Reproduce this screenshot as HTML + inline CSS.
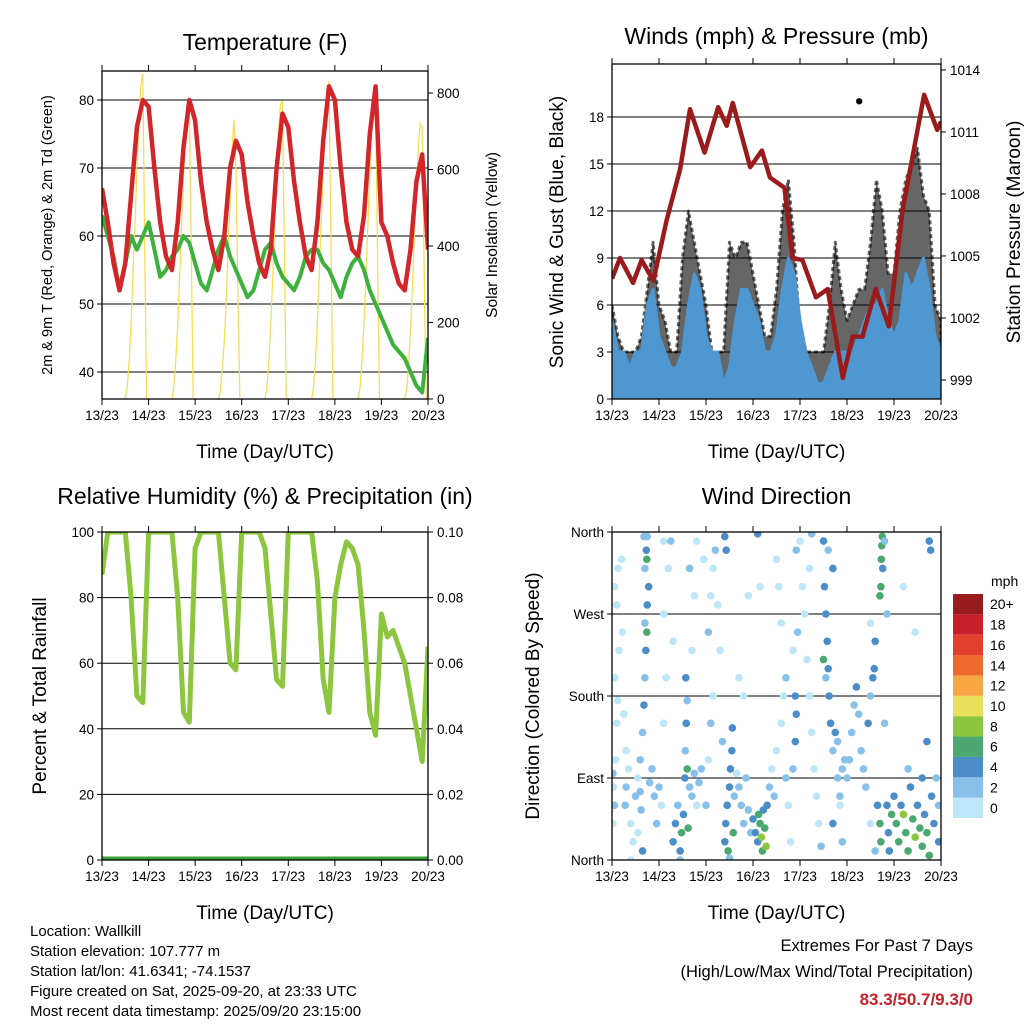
<!DOCTYPE html>
<html><head><meta charset="utf-8"><style>
body{margin:0;background:#fff;}
svg{display:block;font-family:"Liberation Sans",sans-serif;}
</style></head><body>
<svg id="c" width="1024" height="1024" viewBox="0 0 1024 1024"></svg>
<script>
// ---------- data ----------
const tempF=[67,62,56,52,56,66,76,80, 79,70,62,57,55,62,73,80, 77,68,62,58,55,60,70,74, 72,65,60,56,54,58,70,78, 76,68,62,57,55,62,74,82, 80,70,62,58,57,63,75,82, 62,60,56,53,52,58,68,72, 58];
const dewF=[63,60,57,52,56,60,58,60, 62,58,54,55,57,58,60,59, 56,53,52,55,58,60,57,55, 53,51,52,55,58,59,56,54, 53,52,54,57,58,58,56,55, 53,51,54,56,57,55,52,50, 48,46,44,43,42,40,38,37, 45];
const solarDay0=[0,30,100,200,330,460,600,720,820,850,400,0];
const solarDay1=[0,30,100,190,320,450,580,700,770,780,380,0];
const solarDay2=[0,20,80,150,250,400,520,650,730,600,300,0];
const solarDay3=[0,30,100,200,320,450,580,700,770,780,380,0];
const solarDay4=[0,30,100,200,330,470,600,720,810,830,400,0];
const solarDay5=[0,30,100,200,320,450,590,710,780,790,380,0];
const solarDay6=[0,25,90,180,300,420,550,660,720,710,350,0];
const windMean=[5,3,3,2,3,3,6,7, 4,3,2,2,3,6,8,7, 4,3,3,1,2,5,7,7, 6,5,3,3,4,7,9,8, 5,3,2,1,1,2,3,3, 3,3,4,5,6,6,7,5, 4,5,8,7,8,9,7,4, 3];
const windGust=[6,4,3,3,3,4,7,10, 6,5,3,3,9,12,10,8, 6,3,3,3,10,9,10,10, 8,6,4,4,7,12,14,10, 4,3,3,3,3,6,10,7, 5,6,7,7,10,14,12,8, 8,12,14,15,16,13,12,6, 5];
const pressTime=[0,0.17,0.45,0.63,0.88,1.16,1.45,1.66,1.97,2.26,2.44,2.57,2.94,3.19,3.36,3.67,3.84,4.05,4.34,4.59,4.91,5.12,5.33,5.61,5.89,6.18,6.64,6.92,7.0];
const pressMb=[1003.9,1004.9,1003.7,1004.8,1003.8,1006.7,1009.2,1012.1,1010.0,1012.2,1011.3,1012.4,1009.3,1010.1,1008.8,1008.3,1004.9,1004.8,1003.0,1003.4,999.1,1001.1,1001.1,1003.4,1001.6,1007.2,1012.8,1011.1,1011.5];
const rhPct=[87,100,100,100,100,80,50,48, 100,100,100,100,100,80,45,42, 95,100,100,100,100,80,60,58, 100,100,100,100,95,75,55,53, 100,100,100,100,100,85,55,45, 80,90,97,95,90,70,45,38, 75,68,70,65,60,50,40,30, 65];
const precipIn=[0,0,0,0,0,0,0,0,0];
const dirObs=[
[0.02,95,3],[0.03,80,1],[0.05,60,2],[0.02,40,1],[0.08,110,1],[0.1,150,1],[0.12,175,1],[0.06,200,0],[0.15,230,0],[0.1,280,0],[0.05,300,0],[0.13,320,0],[0.2,330,1],[0.22,250,1],[0.25,160,1],[0.3,120,0],[0.35,100,1],[0.3,80,2],[0.28,60,3],[0.4,40,1],[0.45,20,1],[0.5,70,2],[0.55,90,1],[0.6,110,2],[0.65,140,3],[0.68,170,4],[0.7,200,3],[0.72,230,4],[0.7,260,3],[0.75,280,4],[0.78,300,4],[0.7,320,3],[0.73,340,4],[0.75,355,2],[0.68,355,3],[0.74,330,6],[0.74,250,6],[0.6,75,2],[0.62,55,3],[0.55,30,1],[0.65,10,4],[0.4,0,1],[0.8,85,3],[0.85,100,2],[0.9,70,3],[0.95,40,2],
[1.0,80,2],[1.05,60,1],[1.1,150,1],[1.15,200,1],[1.1,270,1],[1.2,320,1],[1.1,350,1],[1.3,20,4],[1.35,40,5],[1.4,60,3],[1.45,10,4],[1.48,30,6],[1.52,50,5],[1.55,90,4],[1.56,120,3],[1.58,150,4],[1.6,175,3],[1.57,200,4],[1.6,100,6],[1.65,80,2],[1.7,70,3],[1.75,95,2],[1.8,60,1],[1.85,85,2],[1.9,100,2],[1.7,230,1],[1.75,290,1],[1.65,320,2],[1.8,350,1],[1.95,330,1],[1.3,240,1],[1.25,350,3],[1.62,35,6],[1.45,0,3],
[2.0,60,2],[2.05,110,1],[2.1,150,2],[2.15,180,1],[2.05,250,2],[2.1,290,1],[2.15,320,1],[2.2,340,2],[2.25,280,1],[2.3,230,1],[2.35,130,2],[2.4,20,4],[2.42,40,5],[2.45,60,4],[2.47,10,6],[2.5,80,4],[2.52,100,5],[2.55,120,4],[2.56,145,5],[2.58,30,6],[2.6,70,3],[2.4,355,5],[2.43,340,4],[2.5,2,3],[2.65,95,1],[2.7,80,2],[2.75,60,2],[2.8,40,3],[2.85,90,3],[2.9,55,2],[2.95,30,3],[2.7,200,1],[2.8,180,1],[2.9,290,1],
[3.0,45,4],[3.05,30,5],[3.1,20,4],[3.12,50,6],[3.15,40,7],[3.18,25,8],[3.2,10,6],[3.22,55,5],[3.25,35,7],[3.28,15,8],[3.3,60,4],[3.35,80,2],[3.4,100,1],[3.45,70,2],[3.5,120,1],[3.6,150,1],[3.65,180,1],[3.7,90,2],[3.75,60,1],[3.8,20,1],[3.85,100,2],[3.9,130,4],[3.92,160,4],[3.9,180,4],[3.95,250,2],[3.92,340,3],[3.5,330,1],[3.55,300,1],[3.6,260,1],[3.7,200,2],[3.85,230,1],[3.15,300,0],[3.1,358,4],
[4.0,350,1],[4.05,300,1],[4.1,270,1],[4.15,220,1],[4.2,180,1],[4.25,140,1],[4.3,100,1],[4.35,70,1],[4.4,40,1],[4.45,15,2],[4.2,320,1],[4.25,358,2],[4.5,350,4],[4.52,300,5],[4.55,270,4],[4.58,240,5],[4.6,210,4],[4.62,180,5],[4.65,150,4],[4.7,120,3],[4.75,140,4],[4.55,200,2],[4.5,220,6],[4.8,90,2],[4.85,70,3],[4.9,100,2],[4.95,110,3],[4.8,130,2],[4.85,60,1],[4.7,40,4],[4.9,20,2],[4.6,340,2],[4.7,320,4],
[5.0,90,2],[5.05,110,3],[5.1,140,2],[5.15,170,3],[5.2,190,4],[5.25,160,3],[5.3,120,2],[5.35,100,3],[5.4,80,2],[5.45,150,4],[5.5,180,3],[5.55,200,4],[5.58,210,4],[5.6,240,4],[5.65,60,4],[5.7,40,6],[5.72,20,7],[5.7,290,6],[5.72,300,7],[5.73,330,6],[5.74,345,7],[5.75,355,6],[5.76,320,4],[5.8,350,3],[5.85,60,5],[5.88,30,4],[5.9,10,5],[5.95,50,6],[5.6,10,3],[5.5,40,1],[5.8,150,2],[5.5,260,1],[5.85,270,2],
[6.0,70,5],[6.05,40,6],[6.1,20,7],[6.15,60,4],[6.2,50,8],[6.25,30,7],[6.3,10,6],[6.35,80,4],[6.4,45,7],[6.45,25,8],[6.5,60,5],[6.55,35,6],[6.6,15,7],[6.65,50,5],[6.7,30,7],[6.75,5,6],[6.8,70,4],[6.85,40,5],[6.9,90,3],[6.95,20,4],[6.7,130,4],[6.6,90,5],[6.3,100,2],[6.45,250,1],[6.75,350,4],[6.78,340,4],[6.2,300,0],[6.95,60,2]];
const dayLabels=["13/23","14/23","15/23","16/23","17/23","18/23","19/23","20/23"];
const tempTicks=[40,50,60,70,80];
const solarTicks=[0,200,400,600,800];
const windTicks=[0,3,6,9,12,15,18];
const pressTicks=[999,1002,1005,1008,1011,1014];
const rhTicks=[0,20,40,60,80,100];
const rainTicks=["0.00","0.02","0.04","0.06","0.08","0.10"];
const dirTicks=[0,90,180,270,360];
const dirNames=["North","East","South","West","North"];
const cbLabels=["0","2","4","6","8","10","12","14","16","18","20+"];
const cbColors=["#bde6f8","#87c0e8","#4b8dc8","#4aa870","#8cc63f","#e8e05a","#f7a643","#ee6a2c","#e0402c","#c8202a","#981b1e"];

// ---------- helpers ----------
const NS="http://www.w3.org/2000/svg";
const svg=document.getElementById('c');
function mk(tag,a,p){const e=document.createElementNS(NS,tag);for(const k in a)e.setAttribute(k,a[k]);(p||svg).appendChild(e);return e;}
function tx(x,y,s,size,anchor,rot,p){const e=mk('text',{x:x,y:y,'font-size':size,'text-anchor':anchor||'middle',fill:'#000'},p);if(rot)e.setAttribute('transform','rotate(-90 '+x+' '+y+')');e.textContent=s;return e;}
function line(x1,y1,x2,y2,w,c,p){return mk('line',{x1:x1,y1:y1,x2:x2,y2:y2,stroke:c||'#000','stroke-width':w||1},p);}
function pts(xs,ys){return xs.map((x,i)=>x.toFixed(1)+','+ys[i].toFixed(1)).join(' ');}

function panel(name,x0,x1,y0,y1,title,ty){
  const g=mk('g',{});
  
  
  const cp=mk('clipPath',{id:name+'-clip'},g);
  mk('rect',{x:x0,y:y0,width:x1-x0,height:y1-y0},cp);
  const t=tx((x0+x1)/2,ty,title,23,'middle',false,g);
  
  
  for(let d=0;d<8;d++){
    const x=x0+d*(x1-x0)/7;
    const tk=line(x,y1,x,y1+6,1,'#000',g);
    
    
    line(x,y0,x,y0-6,1,'#000',g);
    const l=tx(x,y1+21,dayLabels[d],13.5,'middle',false,g);
    
    
  }
  const xt=tx((x0+x1)/2,y1+59,'Time (Day/UTC)',19,'middle',false,g);
  
  
  const plot=mk('g',{'clip-path':'url(#'+name+'-clip)'},g);
  return {g:g,plot:plot,x0:x0,x1:x1,y0:y0,y1:y1};
}
function frame(P){const r=mk('rect',{x:P.x0,y:P.y0,width:P.x1-P.x0,height:P.y1-P.y0,fill:'none',stroke:'#000','stroke-width':1.3},P.g);
  
  }
function grid(P,y){const l=line(P.x0,y,P.x1,y,1,'#000',P.plot);
  
  }
function yTickL(P,y,s){line(P.x0,y,P.x0-5,y,1,'#000',P.g);const t=tx(P.x0-8,y+5,s,13.5,'end',false,P.g);
  
  }
function yTickR(P,y,s){line(P.x1,y,P.x1+5,y,1,'#000',P.g);const t=tx(P.x1+9,y+5,s,13.5,'start',false,P.g);
  
  }

// ---------- Temperature ----------
const P1=panel('temperature-panel',102,428,71,399,'Temperature (F)',50);
const xT=t=>102+t/7*326, yT=v=>100+(80-v)*6.8, yS=s=>399-s*306/800;
tempTicks.forEach(v=>{grid(P1,yT(v));yTickL(P1,yT(v),v);});
solarTicks.forEach(v=>yTickR(P1,yS(v),v));
[solarDay0,solarDay1,solarDay2,solarDay3,solarDay4,solarDay5,solarDay6].forEach((arr,d)=>{
  const xs=arr.map((v,i)=>xT(d+(12+i)/24)), ys=arr.map(v=>yS(v));
  const pl=mk('polyline',{points:pts(xs,ys),fill:'none',stroke:'#f7dc5a','stroke-width':1.3},P1.plot);
  
  
});
{const xs=dewF.map((v,i)=>xT(i/8));
 const pl=mk('polyline',{points:pts(xs,dewF.map(yT)),fill:'none',stroke:'#3cb13c','stroke-width':4,'stroke-linejoin':'round'},P1.plot);
 
 
 const pr=mk('polyline',{points:pts(xs,tempF.map(yT)),fill:'none',stroke:'#d4262a','stroke-width':4.5,'stroke-linejoin':'round'},P1.plot);
 
 }
frame(P1);
{const a=tx(52,235,'2m & 9m T (Red, Orange) & 2m Td (Green)',14.5,'middle',true,P1.g);
 
 
 const b=tx(497,235,'Solar Insolation (Yellow)',15.5,'middle',true,P1.g);
 
 }

// ---------- Winds ----------
const P2=panel('winds-panel',612,941,64,399,'Winds (mph) & Pressure (mb)',44);
const xW=t=>612+t/7*329, yW=v=>399-v*15.67, yP=p=>380-(p-999)*20.67;
windTicks.forEach(v=>{if(v>0)grid(P2,yW(v));yTickL(P2,yW(v),v);});
pressTicks.forEach(v=>yTickR(P2,yP(v),v));
{const xs=windGust.map((v,i)=>xW(i/8));
 const gp=pts(xs,windGust.map(yW))+' '+pts(xs.slice().reverse(),windMean.slice().reverse().map(yW));
 const ga=mk('polygon',{points:gp,fill:'#000','fill-opacity':0.6,stroke:'#000','stroke-width':3,'stroke-linejoin':'round','stroke-opacity':0.6,'stroke-dasharray':'4 3'},P2.plot);
 
 
 const bp=pts(xs,windMean.map(yW))+' '+xW(7)+','+yW(0)+' '+xW(0)+','+yW(0);
 const ba=mk('polygon',{points:bp,fill:'#4f97d0',stroke:'#4f97d0','stroke-width':3,'stroke-linejoin':'round'},P2.plot);
 
 
 const out=mk('circle',{cx:xW(5.26),cy:yW(19),r:3.2,fill:'#000'},P2.plot);
 
 
 const pl=mk('polyline',{points:pts(pressTime.map(xW),pressMb.map(yP)),fill:'none',stroke:'#9b1b1b','stroke-width':4.5,'stroke-linejoin':'round'},P2.plot);
 
 }
frame(P2);
{const a=tx(563,232,'Sonic Wind & Gust (Blue, Black)',19,'middle',true,P2.g);
 
 
 const b=tx(1020,232,'Station Pressure (Maroon)',19,'middle',true,P2.g);
 
 }

// ---------- RH ----------
const P3=panel('humidity-panel',102,428,532,860,'Relative Humidity (%) & Precipitation (in)',504);
const xR=t=>102+t/7*326, yR=v=>860-v*3.28;
rhTicks.forEach((v,i)=>{if(v>0&&v<100)grid(P3,yR(v));yTickL(P3,yR(v),v);yTickR(P3,yR(v),rainTicks[i]);});
{const pr=mk('polyline',{points:pts(precipIn.map((v,i)=>xR(i*7/8)),precipIn.map(v=>yR(v*1000))),fill:'none',stroke:'#3aa03a','stroke-width':7},P3.plot);
 
 
 const pl=mk('polyline',{points:pts(rhPct.map((v,i)=>xR(i/8)),rhPct.map(yR)),fill:'none',stroke:'#8cc63f','stroke-width':5,'stroke-linejoin':'round'},P3.plot);
 
 }
frame(P3);
{const a=tx(46,696,'Percent & Total Rainfall',19,'middle',true,P3.g);
 
 }

// ---------- Wind direction ----------
const P4=panel('wind-direction-panel',612,941,532,860,'Wind Direction',504);
const xD=t=>612+t/7*329, yD=d=>860-d/360*328;
dirTicks.forEach((v,i)=>{if(v>0&&v<360)grid(P4,yD(v));yTickL(P4,yD(v),dirNames[i]);});
const colFor=s=>cbColors[Math.min(10,Math.floor(s/2))];
dirObs.forEach(o=>{
  const c=mk('circle',{cx:xD(o[0]),cy:yD(o[1]),r:3.8,fill:colFor(o[2])},P4.plot);
  
  
});
frame(P4);
{const a=tx(539,696,'Direction (Colored By Speed)',19,'middle',true,P4.g);
 
 }
// colorbar
{const g=mk('g',{});
 
 
 const h=224/11;
 cbColors.forEach((c,i)=>{
   const y=818-(i+1)*h;
   const r=mk('rect',{x:953,y:y,width:30,height:h,fill:c},g);
   
   
   const t=tx(990,y+h/2+5,cbLabels[i],14,'start',false,g);
   
   
 });
 const m=tx(991,586,'mph',14,'start',false,g);
 
 }

// ---------- footer ----------
const info=["Location: Wallkill","Station elevation: 107.777 m","Station lat/lon: 41.6341; -74.1537","Figure created on Sat, 2025-09-20, at 23:33 UTC","Most recent data timestamp: 2025/09/20 23:15:00"];
info.forEach((s,i)=>{const t=tx(30,936+i*20,s,15,'start');
  
  });
{const a=tx(973,951,'Extremes For Past 7 Days',16.5,'end');
 
 
 const b=tx(973,977,'(High/Low/Max Wind/Total Precipitation)',16.5,'end');
 
 
 const c=tx(973,1005,'83.3/50.7/9.3/0',17,'end');
 c.setAttribute('fill','#c8202a');c.setAttribute('font-weight','bold');
 
 }
</script>
</body></html>
